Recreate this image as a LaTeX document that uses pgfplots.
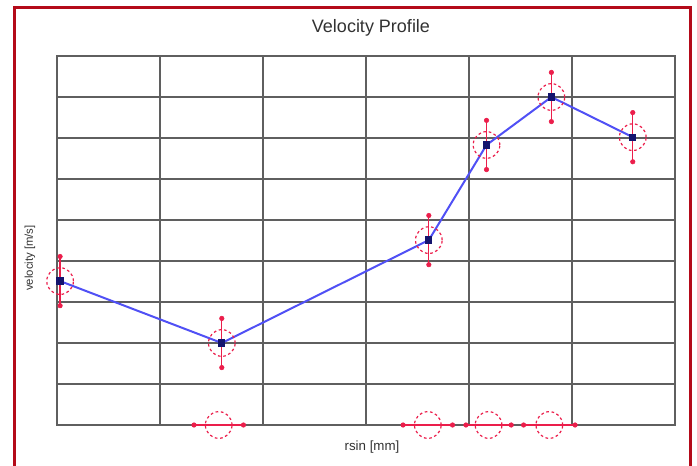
\documentclass[border=0pt]{standalone}
\usepackage{pgfplots}
\pgfplotsset{compat=1.18}
\usepackage{fontspec}
\setmainfont{Liberation Sans}
\definecolor{framered}{RGB}{180,10,25}
\definecolor{gridc}{RGB}{95,95,95}
\definecolor{lineblue}{RGB}{80,80,245}
\definecolor{navy}{RGB}{20,20,110}
\definecolor{errred}{RGB}{235,30,75}
\definecolor{txt}{RGB}{50,50,50}
\begin{document}
\begin{tikzpicture}[x=0.75pt,y=0.75pt]
\useasboundingbox (0,0) rectangle (697,465);
\draw[framered, line width=2.25pt] (14,-20) -- (14,457) -- (690,457) -- (690,-20);
\begin{axis}[at={(42.75pt,30pt)}, anchor=south west, scale only axis,
  width=463.5pt, height=276.75pt,
  xmin=0, xmax=6, ymin=0, ymax=9,
  xtick={0,...,6}, ytick={0,...,9},
  xticklabels={}, yticklabels={},
  grid=major, major grid style={gridc, line width=0.9pt},
  axis line style={gridc, line width=0.9pt},
  major tick length=0pt, clip=false]
\addplot[errred, only marks, mark=o, mark size=10pt,
  mark options={dash pattern=on 2pt off 2pt, line width=0.9pt},
  error bars/.cd, y dir=both, y explicit,
  error bar style={line width=1pt, solid},
  error mark=*, error mark options={mark size=1.7pt, solid}]
  coordinates {
  (0.03,3.51) +- (0,0.6)
  (1.60,2.00) +- (0,0.6)
  (3.61,4.51) +- (0,0.6)
  (4.17,6.83) +- (0,0.6)
  (4.80,8.00) +- (0,0.6)
  (5.59,7.02) +- (0,0.6)
  };
\addplot[errred, only marks, mark=o, mark size=10pt,
  mark options={dash pattern=on 2pt off 2pt, line width=0.9pt},
  error bars/.cd, x dir=both, x explicit,
  error bar style={line width=1pt, solid},
  error mark=*, error mark options={mark size=1.7pt, solid}]
  coordinates {
  (1.57,0) +- (0.24,0)
  (3.60,0) +- (0.24,0)
  (4.19,0) +- (0.22,0)
  (4.78,0) +- (0.25,0)
  };
\addplot[lineblue, line width=1.5pt, mark=square*, mark size=2pt,
  mark options={navy, solid}]
  coordinates {
  (0.03,3.51) (1.60,2.00) (3.61,4.51) (4.17,6.83) (4.80,8.00) (5.59,7.02)
  };
\end{axis}
\node[txt, font=\fontsize{13.5}{16}\selectfont] at (371,437) {Velocity Profile};
\node[txt, rotate=90, font=\fontsize{8.5}{10}\selectfont] at (30,207) {velocity [m/s]};
\node[txt, font=\fontsize{10}{12}\selectfont] at (372,18) {rsin [mm]};
\end{tikzpicture}
\end{document}
